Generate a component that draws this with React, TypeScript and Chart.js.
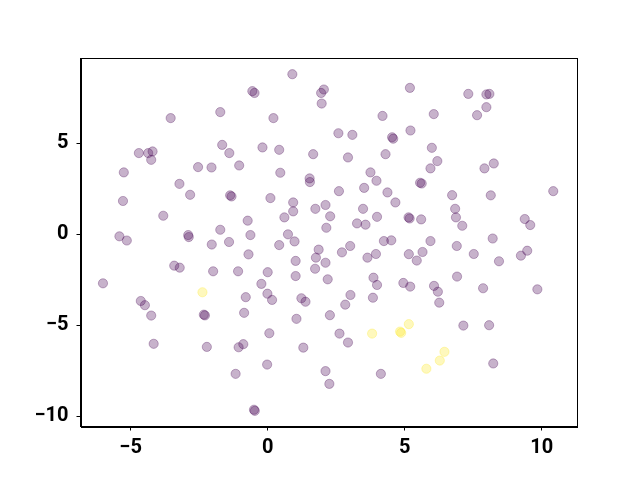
import React, { useEffect, useRef } from "react";
import { Chart, registerables } from "chart.js";

Chart.register(...registerables);

// Purple class (label 0) points
const purpleX: number[] = [
  0.90, -0.56, -0.48, 2.05, 1.95, 1.97, 5.19, 7.32, 7.98, 8.09,
  7.98, 7.64, 6.06, 4.19, 0.21, -1.73, -3.54, 2.58, 3.09, 4.54,
  4.58, 5.21, -1.66, -1.40, -0.19, 0.42, 1.66, 2.93, 4.30, 5.99,
  6.19, -4.70, -4.36, -4.20, -4.25, -5.25, -2.54, -2.05, -1.04, 0.46,
  1.53, 1.54, 3.75, 3.97, 5.94, 7.91, 8.25, 5.56, 5.62, -3.22,
  -2.83, -1.37, -1.32, 2.60, 3.52, 4.37, 4.66, 3.48, 6.73, 8.14,
  10.42, -5.28, 0.10, 0.93, 0.93, 0.61, 1.74, 2.11, 2.28, 2.14,
  3.26, 3.57, 3.99, 5.14, 5.18, 5.60, 6.84, 6.87, 7.10, 9.38,
  9.58, -3.81, -0.73, -1.73, -0.63, 0.74, 0.98, 0.42, -2.90, -2.88,
  -5.41, -5.14, -2.04, -1.41, 3.01, 4.24, 4.51, 5.94, 6.90, 8.21,
  -0.70, 1.86, 1.76, 2.11, 2.71, 3.64, 3.95, 5.15, 5.44, 5.65,
  7.52, 8.44, 9.24, 9.47, 1.02, 1.02, 1.73, 2.19, 0.00, -0.23,
  -0.01, 0.16, -3.41, -3.21, -1.99, -1.08, -6.01, -0.80, -4.63, -4.48,
  -4.25, -2.33, -2.29, -0.86, 1.23, 1.38, 1.05, 2.27, 3.02, 2.83,
  3.84, 3.86, 3.99, 4.95, 5.20, 6.91, 6.07, 6.21, 6.26, 7.86,
  9.84, 7.14, 8.08, 0.06, 2.62, 2.93, 1.30, -4.16, -2.22, -1.06,
  -0.89, -1.17, -0.02, 2.11, 2.25, 4.13, 8.23, -0.50, -0.47,
];
const purpleY: number[] = [
  8.79, 7.86, 7.76, 7.95, 7.76, 7.18, 8.04, 7.71, 7.68, 7.71,
  6.98, 6.54, 6.60, 6.50, 6.38, 6.71, 6.38, 5.55, 5.46, 5.33,
  5.25, 5.70, 4.91, 4.46, 4.77, 4.64, 4.40, 4.22, 4.40, 4.75,
  4.02, 4.46, 4.46, 4.55, 4.09, 3.40, 3.69, 3.67, 3.78, 3.38,
  3.07, 2.87, 3.40, 2.94, 3.62, 3.62, 3.89, 2.83, 2.79, 2.77,
  2.17, 2.14, 2.08, 2.37, 2.55, 2.30, 1.75, 1.40, 2.15, 2.14,
  2.37, 1.83, 1.99, 1.75, 1.26, 0.93, 1.40, 1.61, 0.99, 0.36,
  0.60, 0.53, 0.96, 0.93, 0.87, 0.82, 1.40, 0.93, 0.47, 0.84,
  0.51, 1.02, 0.75, 0.25, -0.04, 0.00, -0.39, -0.59, -0.04, -0.15,
  -0.11, -0.34, -0.56, -0.42, -0.64, -0.37, -0.33, -0.37, -0.64, -0.23,
  -1.10, -0.84, -1.28, -1.56, -0.99, -1.28, -1.08, -1.09, -1.44, -0.97,
  -1.08, -1.48, -1.17, -0.90, -1.46, -2.29, -1.89, -2.47, -2.08, -2.72,
  -3.26, -3.60, -1.72, -1.83, -2.03, -2.03, -2.69, -3.45, -3.66, -3.89,
  -4.46, -4.41, -4.45, -4.31, -3.51, -3.70, -4.64, -4.44, -3.33, -3.86,
  -3.48, -2.38, -2.78, -2.67, -2.87, -2.32, -2.83, -3.15, -3.75, -2.96,
  -3.02, -5.01, -4.99, -5.43, -5.45, -5.94, -6.22, -6.01, -6.18, -6.20,
  -6.03, -7.66, -7.15, -7.51, -8.21, -7.66, -7.09, -9.63, -9.69,
];

// Yellow class (label 1) points
const yellowX: number[] = [-2.38, 3.81, 4.83, 4.87, 5.15, 6.45, 6.28, 5.79];
const yellowY: number[] = [-3.18, -5.45, -5.34, -5.41, -4.93, -6.45, -6.93, -7.38];

const xTicks: number[] = [-5, 0, 5, 10];
const yTicks: number[] = [-10, -5, 0, 5];

const fmt = (v: number) => (v < 0 ? "\u2212" + Math.abs(v) : String(v));

const frame = {
  id: "frame",
  afterDraw(chart: any) {
    const { ctx, chartArea } = chart;
    ctx.save();
    ctx.strokeStyle = "#000";
    ctx.lineWidth = 1;
    ctx.strokeRect(
      Math.round(chartArea.left) + 0.5,
      Math.round(chartArea.top) + 0.5,
      Math.round(chartArea.right - chartArea.left),
      Math.round(chartArea.bottom - chartArea.top)
    );
    ctx.restore();
  },
};

export default function App() {
  const ref = useRef<HTMLCanvasElement>(null);
  useEffect(() => {
    if (!ref.current) return;
    const toPts = (xs: number[], ys: number[]) => xs.map((x, i) => ({ x, y: ys[i] }));
    const tickFont = { family: "Roboto", size: 20, weight: "bold" as const };
    const chart = new Chart(ref.current, {
      type: "scatter",
      data: {
        datasets: [
          {
            data: toPts(purpleX, purpleY),
            backgroundColor: "rgba(68,1,84,0.3)",
            borderColor: "rgba(68,1,84,0.3)",
            borderWidth: 1,
            pointRadius: 4.6,
          },
          {
            data: toPts(yellowX, yellowY),
            backgroundColor: "rgba(253,231,37,0.3)",
            borderColor: "rgba(253,231,37,0.3)",
            borderWidth: 1,
            pointRadius: 4.6,
          },
        ],
      },
      options: {
        responsive: false,
        animation: false,
        layout: { padding: { top: 58, right: 64, left: 0, bottom: 0 } },
        plugins: { legend: { display: false }, tooltip: { enabled: false } },
        scales: {
          x: {
            type: "linear",
            min: -6.83,
            max: 11.25,
            afterBuildTicks: (s: any) => {
              s.ticks = xTicks.map((v) => ({ value: v }));
            },
            afterFit: (s: any) => {
              s.height = 53.5;
            },
            ticks: {
              color: "#000",
              font: tickFont,
              padding: 5,
              maxRotation: 0,
              callback: (v: any) => fmt(Number(v)),
            },
            grid: { drawOnChartArea: false, drawTicks: true, tickLength: 4, color: "#000" },
            border: { display: true, color: "#000" },
          },
          y: {
            type: "linear",
            min: -10.55,
            max: 9.68,
            afterBuildTicks: (s: any) => {
              s.ticks = yTicks.map((v) => ({ value: v }));
            },
            afterFit: (s: any) => {
              s.width = 80.5;
            },
            ticks: {
              color: "#000",
              font: tickFont,
              padding: 8,
              callback: (v: any) => fmt(Number(v)),
            },
            grid: { drawOnChartArea: false, drawTicks: true, tickLength: 4, color: "#000" },
            border: { display: true, color: "#000" },
          },
        },
      },
      plugins: [frame],
    });
    return () => chart.destroy();
  }, []);
  return (
    <div style={{ position: "fixed", left: 0, top: 0, width: 640, height: 480, background: "#fff" }}>
      <canvas ref={ref} width={640} height={480} style={{ width: 640, height: 480 }} />
    </div>
  );
}
